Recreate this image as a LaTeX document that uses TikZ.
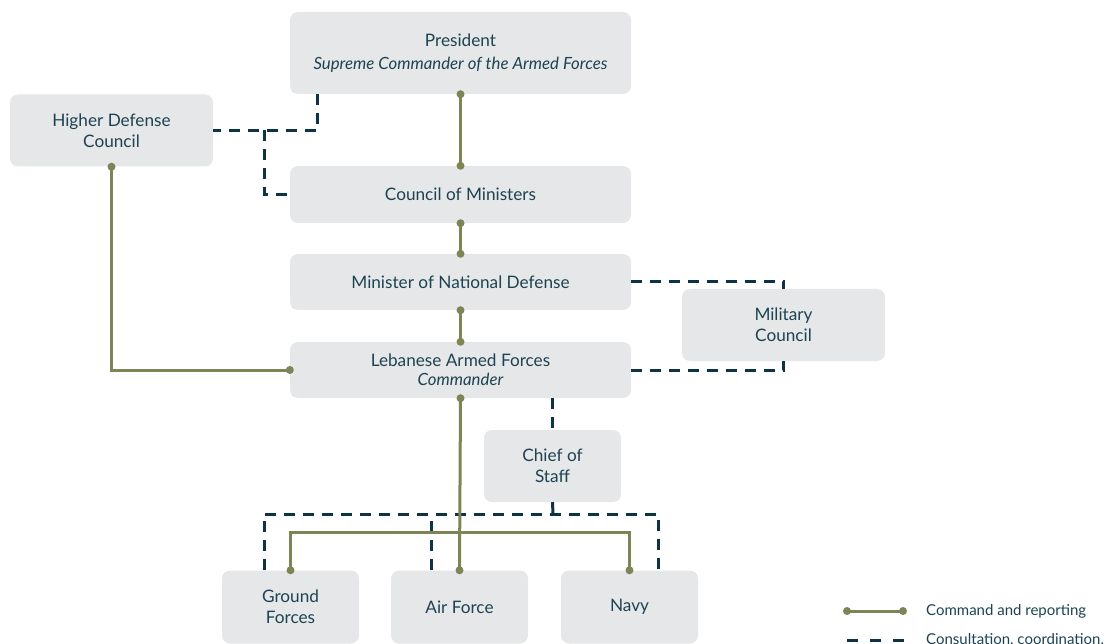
\documentclass[tikz,border=0pt]{standalone}
\usepackage{fontspec}
\setmainfont{Lato}
\usetikzlibrary{positioning}

\definecolor{boxgray}{HTML}{E6E7E8}
\definecolor{inkblue}{HTML}{1D4352}
\definecolor{cmdolive}{HTML}{7F8456}
\definecolor{consnavy}{HTML}{0F3346}

\tikzset{
  unit/.style={fill=boxgray, rounded corners=8pt, text=inkblue, align=center,
    inner sep=0pt, font=\fontsize{17.2}{21}\selectfont},
  wideunit/.style={unit, minimum width=341pt, minimum height=56pt},
  sideunit/.style={unit, minimum width=203pt, minimum height=72pt},
  armunit/.style={unit, minimum width=137pt, minimum height=73pt},
  cmd/.style={draw=cmdolive, line width=3pt},
  cons/.style={draw=consnavy, line width=3pt, dash pattern=on 11pt off 8pt},
  dot/.style={fill=cmdolive},
  legtext/.style={text=inkblue, anchor=west, inner sep=0pt, font=\fontsize{15}{17}\selectfont},
}
\newcommand{\subline}[1]{{\itshape\fontsize{16.8}{19}\selectfont #1}}

\begin{document}
\begin{tikzpicture}[x=1pt, y=-1pt]
    \useasboundingbox (0,0) rectangle (1114,644);

    % units
    \node [wideunit, minimum height=82pt] (president) at (460.5,53)
      {President\\[2pt]\subline{Supreme Commander of the Armed Forces}};
    \node [sideunit] (hdc) at (111.5,130.5) {Higher Defense\\Council};
    \node [wideunit, minimum height=57pt] (com) at (460.5,194.5) {Council of Ministers};
    \node [wideunit] (mnd) at (460.5,282) {Minister of National Defense};
    \node [sideunit] (mc) at (783.5,325) {Military\\Council};
    \node [wideunit] (laf) at (460.5,370)
      {Lebanese Armed Forces\\[-2pt]\subline{Commander}};
    \node [armunit, minimum height=72pt] (cos) at (552.5,466) {Chief of\\Staff};
    \node [armunit] (ground) at (290.5,607) {Ground\\Forces};
    \node [armunit] (air) at (459.5,607) {Air Force};
    \node [armunit] (navy) at (629.5,607) {Navy};

    % consultation, coordination
    \coordinate (hdcjoin) at (264,130);
    \coordinate (cosbar) at (553,514);
    \coordinate (groundtop) at ([xshift=-26pt]ground.north);
    \coordinate (airtop) at ([xshift=-28pt]air.north);
    \coordinate (navytop) at ([xshift=29pt]navy.north);
    \draw [cons] ([xshift=28pt]president.south west) |- (hdc.east);
    \draw [cons] (hdcjoin) |- (com.west);
    \draw [cons] (mnd.east) -| (mc.north);
    \draw [cons] (laf.east) -| (mc.south);
    \draw [cons] ([xshift=92pt]laf.south) -- (cos.north);
    \draw [cons] (cos.south) -- (cosbar);
    \draw [cons] (groundtop) |- (cosbar) -| (navytop);
    \draw [cons] (airtop) -- (airtop |- cosbar);

    % command and reporting
    \coordinate (bar) at (460,532);
    \draw [cmd] (president.south) -- (com.north);
    \draw [cmd] (com.south) -- (mnd.north);
    \draw [cmd] (mnd.south) -- (laf.north);
    \draw [cmd] (hdc.south) |- (laf.west);
    \draw [cmd] (laf.south) -- (air.north);
    \draw [cmd] (ground.north) |- (bar) -| (navy.north);
    \foreach \p in {president.south, com.north, com.south, mnd.north, mnd.south,
                    laf.north, laf.west, laf.south, hdc.south,
                    ground.north, air.north, navy.north}
      \fill [dot] (\p) circle (4pt);

    % legend
    \coordinate (cmda) at (847,611);
    \coordinate (cmdb) at (903,611);
    \coordinate (consa) at (847,640);
    \coordinate (consb) at (905,640);
    \draw [cmd] (cmda) -- (cmdb);
    \fill [dot] (cmda) circle (4pt);
    \fill [dot] (cmdb) circle (4pt);
    \draw [cons, dash pattern=on 11pt off 12pt] (consa) -- (consb);
    \node [legtext] (cmdtext) at (926,611) {Command and reporting};
    \node [legtext] (constext) at (926,640) {Consultation, coordination,};

\end{tikzpicture}
\end{document}
